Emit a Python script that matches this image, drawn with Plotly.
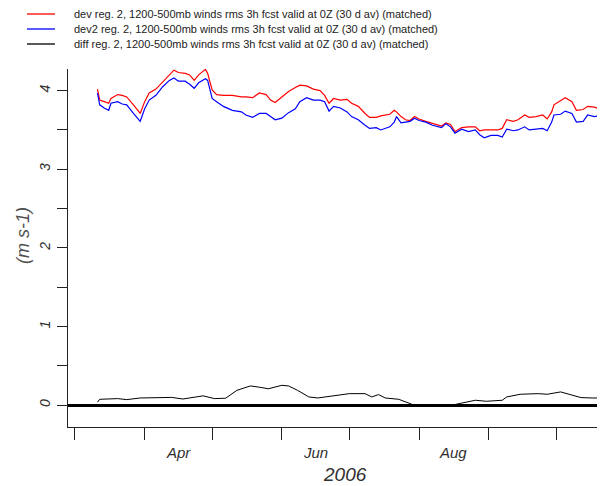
import plotly.graph_objects as go

# ---------------- data ----------------
dev_dates = [
    "2006-03-11", "2006-03-12", "2006-03-14", "2006-03-16", "2006-03-17", "2006-03-20",
    "2006-03-22", "2006-03-24", "2006-03-27", "2006-03-30", "2006-04-01", "2006-04-03",
    "2006-04-06", "2006-04-09", "2006-04-12", "2006-04-14", "2006-04-16", "2006-04-19",
    "2006-04-21", "2006-04-23", "2006-04-25", "2006-04-28", "2006-04-29", "2006-05-01",
    "2006-05-03", "2006-05-06", "2006-05-10", "2006-05-14", "2006-05-16", "2006-05-19",
    "2006-05-22", "2006-05-25", "2006-05-27", "2006-05-29", "2006-06-01", "2006-06-04",
    "2006-06-07", "2006-06-09", "2006-06-12", "2006-06-15", "2006-06-18", "2006-06-20",
    "2006-06-22", "2006-06-24", "2006-06-27", "2006-06-30", "2006-07-02", "2006-07-05",
    "2006-07-08", "2006-07-10", "2006-07-13", "2006-07-15", "2006-07-19", "2006-07-21",
    "2006-07-22", "2006-07-24", "2006-07-26", "2006-07-28", "2006-07-30", "2006-08-01",
    "2006-08-04", "2006-08-07", "2006-08-11", "2006-08-13", "2006-08-15", "2006-08-17",
    "2006-08-20", "2006-08-23", "2006-08-26", "2006-08-28", "2006-08-30", "2006-09-02",
    "2006-09-05", "2006-09-07", "2006-09-09", "2006-09-12", "2006-09-14", "2006-09-17",
    "2006-09-19", "2006-09-22", "2006-09-25", "2006-09-27", "2006-09-29", "2006-09-30",
    "2006-10-03", "2006-10-05", "2006-10-08", "2006-10-10", "2006-10-13", "2006-10-15",
    "2006-10-18", "2006-10-20", "2006-10-22",
]
dev_values = [
    4.02, 3.88, 3.86, 3.84, 3.90, 3.95,
    3.94, 3.92, 3.82, 3.71, 3.86, 3.97,
    4.02, 4.11, 4.20, 4.26, 4.23, 4.22,
    4.20, 4.13, 4.20, 4.27, 4.22, 4.01,
    3.95, 3.94, 3.94, 3.92, 3.92, 3.91,
    3.97, 3.95, 3.88, 3.85, 3.92, 3.99,
    4.04, 4.07, 4.06, 4.02, 4.00, 3.94,
    3.84, 3.90, 3.88, 3.89, 3.84, 3.80,
    3.71, 3.66, 3.66, 3.68, 3.70, 3.75,
    3.73, 3.67, 3.63, 3.62, 3.67, 3.64,
    3.61, 3.58, 3.55, 3.59, 3.57, 3.48,
    3.53, 3.54, 3.54, 3.49, 3.50, 3.50,
    3.50, 3.52, 3.63, 3.61, 3.63, 3.69,
    3.66, 3.67, 3.69, 3.64, 3.73, 3.82,
    3.88, 3.91, 3.86, 3.75, 3.76, 3.80,
    3.79, 3.77, 3.81,
]
dev2_values = [
    3.97, 3.82, 3.78, 3.75, 3.84, 3.86,
    3.83, 3.82, 3.71, 3.61, 3.77, 3.88,
    3.94, 4.05, 4.13, 4.16, 4.12, 4.12,
    4.08, 4.03, 4.10, 4.15, 4.13, 3.90,
    3.86, 3.80, 3.75, 3.73, 3.69, 3.66,
    3.71, 3.71, 3.67, 3.63, 3.65, 3.72,
    3.77, 3.86, 3.91, 3.88, 3.88, 3.86,
    3.74, 3.80, 3.78, 3.73, 3.67, 3.63,
    3.56, 3.52, 3.53, 3.50, 3.54, 3.60,
    3.67, 3.59, 3.60, 3.61, 3.65, 3.62,
    3.60, 3.56, 3.53, 3.58, 3.54, 3.46,
    3.51, 3.48, 3.50, 3.44, 3.40, 3.43,
    3.43, 3.41, 3.51, 3.49, 3.50, 3.54,
    3.50, 3.51, 3.52, 3.49, 3.60, 3.69,
    3.70, 3.74, 3.71, 3.60, 3.61, 3.69,
    3.67, 3.68, 3.70,
]

diff_dates = [
    "2006-03-11", "2006-03-12", "2006-03-20", "2006-03-24", "2006-03-30", "2006-04-07",
    "2006-04-13", "2006-04-18", "2006-04-27", "2006-05-02", "2006-05-07", "2006-05-12",
    "2006-05-18", "2006-05-22", "2006-05-26", "2006-06-01", "2006-06-04", "2006-06-08",
    "2006-06-13", "2006-06-17", "2006-06-25", "2006-07-01", "2006-07-08", "2006-07-11",
    "2006-07-14", "2006-07-17", "2006-07-23", "2006-07-28", "2006-07-30", "2006-08-03",
    "2006-08-09", "2006-08-13", "2006-08-17", "2006-08-21", "2006-08-26", "2006-08-31",
    "2006-09-07", "2006-09-09", "2006-09-15", "2006-09-23", "2006-09-27", "2006-10-03",
    "2006-10-09", "2006-10-12", "2006-10-17", "2006-10-22",
]
diff_values = [
    0.04, 0.076, 0.085, 0.072, 0.093, 0.093,
    0.10, 0.08, 0.12, 0.085, 0.09, 0.19,
    0.246, 0.23, 0.21, 0.254, 0.246, 0.19,
    0.106, 0.093, 0.119, 0.148, 0.148, 0.106,
    0.136, 0.093, 0.076, 0.02, 0.0, -0.01,
    0.008, 0.0, 0.01, 0.034, 0.064, 0.051,
    0.064, 0.106, 0.14, 0.148, 0.14, 0.17,
    0.127, 0.098, 0.093, 0.093,
]

legend_labels = [
    "dev reg. 2, 1200-500mb winds rms 3h fcst valid at 0Z (30 d av) (matched)",
    "dev2 reg. 2, 1200-500mb winds rms 3h fcst valid at 0Z (30 d av) (matched)",
    "diff reg. 2, 1200-500mb winds rms 3h fcst valid at 0Z (30 d av) (matched)",
]
series_colors = ["#ff0000", "#0000ff", "#000000"]

month_ticks = ["2006-03-01", "2006-04-01", "2006-05-01", "2006-06-01",
               "2006-07-01", "2006-08-01", "2006-09-01", "2006-10-01"]
month_label_pos = ["2006-04-16", "2006-06-16", "2006-08-16"]
month_labels = ["Apr", "Jun", "Aug"]
year_label = "2006"
y_tickvals = [0, 0.5, 1, 1.5, 2, 2.5, 3, 3.5, 4]
y_ticktext = ["0", "", "1", "", "2", "", "3", "", "4"]
y_title = "(m s-1)"

# ---------------- layout geometry ----------------
# The page body has an 8px margin; the figure is offset so the plot region
# lands at page pixels left 68, top 69, bottom 427, right 605.
OFF = 8
PAGE_W, PAGE_H = 605, 486
W, H = PAGE_W - OFF, PAGE_H - OFF
PL, PT, PB, PR = 68, 69, 427, 605        # plot box in page pixels
L, T = PL - OFF, PT - OFF
B = H - (PB - OFF)
R = W - (PR - OFF)
PW, PH = W - L - R, H - T - B
FONT = "Liberation Sans, Arial, sans-serif"
TXT = "#303030"


def px_x(px):
    return (px - PL) / PW


def px_y(py):
    return (PB - py) / PH


fig = go.Figure()
fig.add_trace(go.Scatter(x=dev_dates, y=dev_values, mode="lines", name=legend_labels[0],
                         line=dict(color=series_colors[0], width=1.2)))
fig.add_trace(go.Scatter(x=dev_dates, y=dev2_values, mode="lines", name=legend_labels[1],
                         line=dict(color=series_colors[1], width=1.2)))
fig.add_trace(go.Scatter(x=diff_dates, y=diff_values, mode="lines", name=legend_labels[2],
                         line=dict(color=series_colors[2], width=1.0)))

shapes = []
annotations = []
legend_rows = [14, 29, 44]
for lab, col, ry in zip(legend_labels, series_colors, legend_rows):
    shapes.append(dict(type="line", xref="paper", yref="paper",
                       x0=px_x(27), x1=px_x(55), y0=px_y(ry), y1=px_y(ry),
                       line=dict(color=col, width=1.3)))
    annotations.append(dict(text=lab, xref="paper", yref="paper", x=px_x(73), y=px_y(ry),
                            xanchor="left", yanchor="middle", showarrow=False, borderpad=0,
                            font=dict(family=FONT, size=11, color="#222222")))

for pos, lab in zip(month_label_pos, month_labels):
    annotations.append(dict(text=lab, xref="x", yref="paper", x=pos, y=px_y(452),
                            xanchor="center", yanchor="middle", showarrow=False,
                            font=dict(family=FONT, size=15, color=TXT, style="italic")))
annotations.append(dict(text=year_label, xref="paper", yref="paper", x=px_x(345), y=px_y(474),
                        xanchor="center", yanchor="middle", showarrow=False, borderpad=0,
                        font=dict(family=FONT, size=19, color=TXT, style="italic")))
annotations.append(dict(text=y_title, xref="paper", yref="paper", x=px_x(23), y=px_y(236),
                        xanchor="center", yanchor="middle", showarrow=False, textangle=-90,
                        font=dict(family=FONT, size=18, color="#505050", style="italic")))

fig.update_layout(
    width=W, height=H,
    margin=dict(l=L, r=R, t=T, b=B, pad=0),
    paper_bgcolor="white", plot_bgcolor="white",
    showlegend=False,
    shapes=shapes, annotations=annotations,
    xaxis=dict(type="date", range=["2006-02-25 21:30", "2006-10-22 17:00"],
               tickmode="array", tickvals=month_ticks, ticktext=[""] * len(month_ticks),
               ticks="outside", ticklen=12, tickwidth=1.3, tickcolor="#222222",
               showline=True, linecolor="#222222", linewidth=1.3,
               showgrid=False, zeroline=False),
    yaxis=dict(range=[-0.276, 4.275], tickmode="array", tickvals=y_tickvals, ticktext=y_ticktext,
               ticks="outside", ticklen=10, tickwidth=1.3, tickcolor="#222222",
               tickangle=-90, ticklabelstandoff=1,
               tickfont=dict(family=FONT, size=14, color=TXT, style="italic"),
               showline=True, linecolor="#222222", linewidth=1.3,
               showgrid=False, zeroline=True, zerolinecolor="#000000", zerolinewidth=3),
)

fig.write_html("out.html")
